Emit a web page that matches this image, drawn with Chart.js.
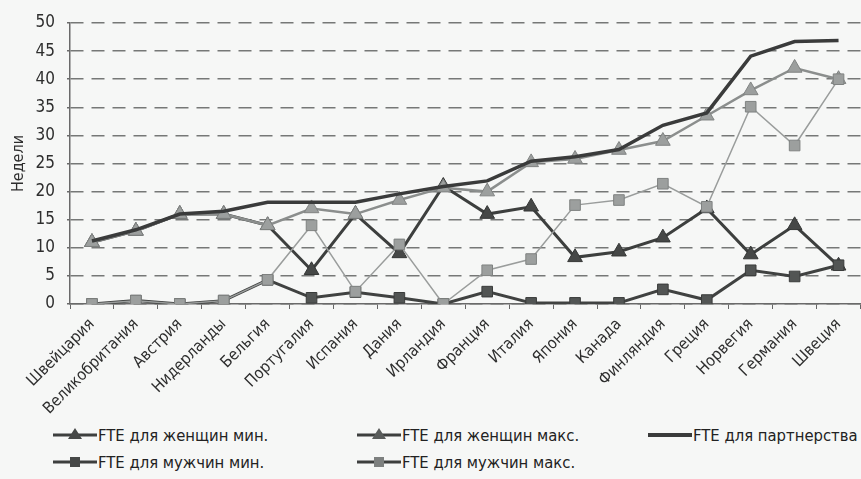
<!DOCTYPE html>
<html>
<head>
<meta charset="utf-8">
<script src="https://cdn.jsdelivr.net/npm/chart.js@4/dist/chart.umd.min.js"></script>
<style>
  html, body { margin: 0; padding: 0; background: #f6f7f6; overflow: hidden; width: 861px; height: 479px; }
  #wrap { position: relative; width: 861px; height: 479px; overflow: hidden; }
  #c { position: absolute; left: 0; top: 0; }
  .lg { position: absolute; font-family: "DejaVu Sans Condensed", "Liberation Sans", sans-serif; font-size: 16.5px; color: #222; white-space: nowrap; display: flex; align-items: center; height: 22px; }
  .lg svg { display: block; margin-right: 1px; }
</style>
</head>
<body>
<div id="wrap">
  <canvas id="c" width="870" height="420" style="width:870px;height:420px"></canvas>
</div>
<script>
const categories = ["Швейцария","Великобритания","Австрия","Нидерланды","Бельгия","Португалия","Испания","Дания","Ирландия","Франция","Италия","Япония","Канада","Финляндия","Греция","Норвегия","Германия","Швеция"];
const womenMin    = [11, 13, 16, 16, 14, 6, 16, 9, 21, 16, 17.3, 8.3, 9.3, 11.8, 17, 8.8, 14, 6.8];
const womenMax    = [11, 13, 16, 16, 14, 17, 16, 18.5, 20.7, 20, 25.2, 25.8, 27.4, 29, 33.5, 38, 42, 40];
const partnership = [11.2, 13.2, 16, 16.5, 18.1, 18.1, 18.1, 19.6, 20.9, 21.9, 25.4, 26.2, 27.5, 31.8, 34, 44.1, 46.7, 46.9];
const menMin      = [0, 0.6, 0, 0.6, 4.3, 1.1, 2.1, 1.1, 0, 2.2, 0.2, 0.2, 0.2, 2.6, 0.7, 6, 4.9, 6.9];
const menMax      = [0, 0.6, 0, 0.6, 4.3, 14, 2.2, 10.6, 0, 6, 8, 17.6, 18.5, 21.4, 17.3, 35.1, 28.2, 40];
const yTicks = [0, 5, 10, 15, 20, 25, 30, 35, 40, 45, 50];
const seriesNames = ["FTE для женщин мин.", "FTE для женщин макс.", "FTE для партнерства", "FTE для мужчин мин.", "FTE для мужчин макс."];

const FONT = '"DejaVu Sans Condensed", "Liberation Sans", sans-serif';

const ctx = document.getElementById('c').getContext('2d');
new Chart(ctx, {
  type: 'line',
  data: {
    labels: categories,
    datasets: [
      { label: seriesNames[3], data: menMin, borderColor: '#404241', borderWidth: 3, pointStyle: 'rect', pointRadius: 7.5, pointBackgroundColor: '#525554', pointBorderColor: '#3a3c3b', pointBorderWidth: 1, order: 1 },
      { label: seriesNames[4], data: menMax, borderColor: '#9a9d9c', borderWidth: 1.5, pointStyle: 'rect', pointRadius: 7.5, pointBackgroundColor: '#9c9f9e', pointBorderColor: '#7f8281', pointBorderWidth: 1, order: 0 },
      { label: seriesNames[2], data: partnership, borderColor: '#3a3b3b', borderWidth: 3.5, pointRadius: 0, order: 2 },
      { label: seriesNames[1], data: womenMax, borderColor: '#8b8e8d', borderWidth: 2.5, pointStyle: 'triangle', pointRadius: 8.5, pointBackgroundColor: '#9c9f9e', pointBorderColor: '#808382', pointBorderWidth: 1, order: 3 },
      { label: seriesNames[0], data: womenMin, borderColor: '#3d3f3e', borderWidth: 3, pointStyle: 'triangle', pointRadius: 8.5, pointBackgroundColor: '#464847', pointBorderColor: '#353736', pointBorderWidth: 1, order: 4 }
    ]
  },
  options: {
    responsive: false,
    animation: false,
    devicePixelRatio: 1,
    layout: { padding: { top: 23, right: 4, left: 0, bottom: 0 } },
    plugins: { legend: { display: false }, tooltip: { enabled: false } },
    elements: { line: { tension: 0 } },
    scales: {
      x: {
        offset: true,
        grid: { display: true, drawOnChartArea: false, drawTicks: true, tickLength: 5, color: '#666', offset: true },
        border: { display: true, color: '#6a6a6a', width: 1.5 },
        ticks: { minRotation: 45, maxRotation: 45, autoSkip: false, padding: 6, color: '#2e2e2e', font: { family: FONT, size: 16 } },
        afterFit: (s) => { s.height = 116; }
      },
      y: {
        min: 0, max: 50,
        afterBuildTicks: (s) => { s.ticks = yTicks.map(v => ({ value: v })); },
        grid: { color: '#767877', lineWidth: 1.5, tickLength: 3, tickColor: '#6a6a6a' },
        border: { display: true, color: '#6a6a6a', width: 1.5, dash: [13, 8] },
        ticks: { padding: 12, color: '#2e2e2e', font: { family: FONT, size: 17 } },
        title: { display: true, text: 'Недели', color: '#2e2e2e', font: { family: FONT, size: 16 }, padding: { top: 9, bottom: 0 } },
        afterFit: (s) => { s.width = 70; }
      }
    }
  }
});

// legend (HTML)
const legendItems = [
  { name: seriesNames[0], x: 53, y: 424, line: '#3d3f3e', marker: 'tri', fill: '#464847' },
  { name: seriesNames[1], x: 357, y: 424, line: '#3d3f3e', marker: 'tri', fill: '#595c5b' },
  { name: seriesNames[2], x: 648, y: 424, line: '#3a3b3b', marker: 'none', fill: '' },
  { name: seriesNames[3], x: 53, y: 451, line: '#3d3f3e', marker: 'sq', fill: '#464847' },
  { name: seriesNames[4], x: 357, y: 451, line: '#3d3f3e', marker: 'sq', fill: '#7d807f' }
];
const wrap = document.getElementById('wrap');
legendItems.forEach(it => {
  const d = document.createElement('div');
  d.className = 'lg';
  d.style.left = it.x + 'px';
  d.style.top = it.y + 'px';
  let m = '';
  if (it.marker === 'tri') m = `<polygon points="22,4 29,15 15,15" fill="${it.fill}"/>`;
  if (it.marker === 'sq') m = `<rect x="17" y="6" width="10" height="10" fill="${it.fill}"/>`;
  const lw = it.marker === 'none' ? 4 : 3;
  d.innerHTML = `<svg width="44" height="22"><line x1="0" y1="11" x2="44" y2="11" stroke="${it.line}" stroke-width="${lw}"/>${m}</svg><span>${it.name}</span>`;
  wrap.appendChild(d);
});
</script>
</body>
</html>
